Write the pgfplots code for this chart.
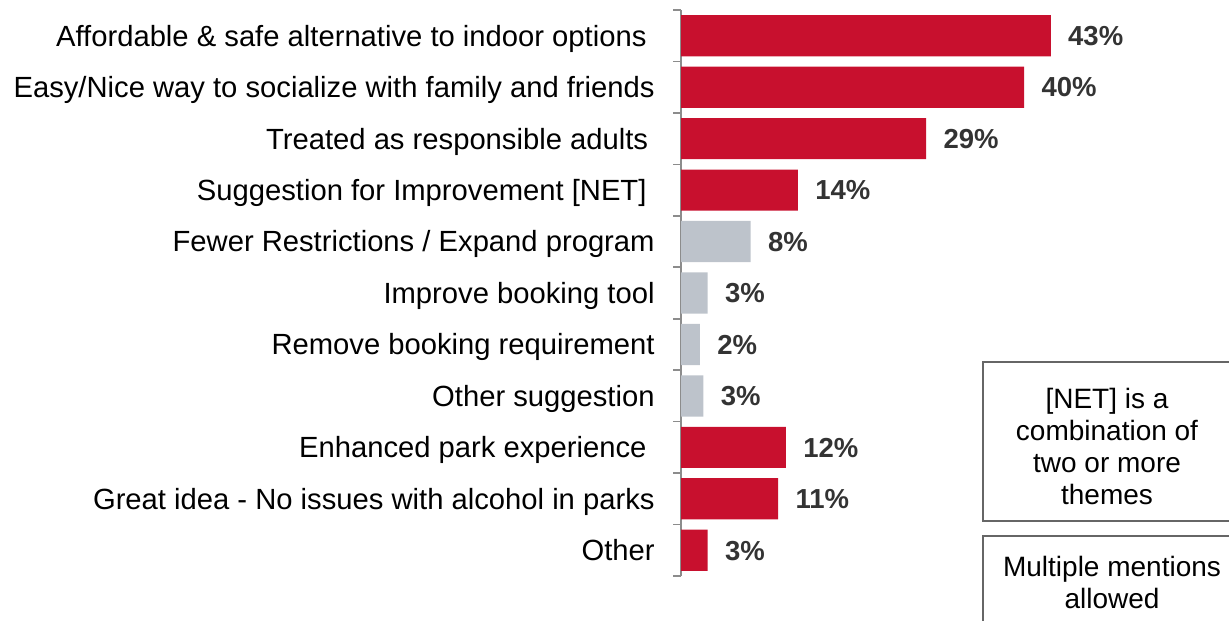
\documentclass[border=0pt]{standalone}
\usepackage{fontspec}
\setmainfont{Liberation Sans}
\usepackage{pgfplots}
\pgfplotsset{compat=1.18}
\definecolor{barred}{HTML}{C8102E}
\definecolor{bargray}{HTML}{BDC3CB}
\definecolor{axgray}{HTML}{8C8C8C}
\definecolor{lblgray}{HTML}{333333}
\begin{document}
\begin{tikzpicture}[x=0.5pt,y=-0.5pt]
\useasboundingbox (0,0) rectangle (1229,620);
\begin{axis}[
  at={(340.5pt,-5pt)}, anchor=north west,
  scale only axis, width=215pt, height=283pt,
  xbar, clip=false,
  xmin=0, xmax=50, ymin=-0.5, ymax=10.5, y dir=reverse,
  hide x axis, axis y line*=left,
  y axis line style={axgray, line width=0.8pt},
  ytick={0,...,10},
  yticklabels={
    Affordable \& safe alternative to indoor options\hphantom{t},
    Easy/Nice way to socialize with family and friends,
    Treated as responsible adults\hphantom{i},
    Suggestion for Improvement [NET]\hphantom{t},
    Fewer Restrictions / Expand program,
    Improve booking tool,
    Remove booking requirement,
    Other suggestion,
    Enhanced park experience\hphantom{t},
    Great idea - No issues with alcohol in parks,
    Other},
  major tick length=0pt,
  minor ytick={-0.5,0.5,...,10.5},
  minor tick length=4pt,
  tick align=outside,
  y tick style={axgray, line width=0.8pt},
  yticklabel style={anchor=base east, inner sep=0pt, xshift=-13pt, yshift=-5.2pt,
    font=\fontsize{14.6pt}{16pt}\selectfont, text=black},
  point meta=explicit symbolic,
  nodes near coords={\pgfplotspointmeta\%},
  every node near coord/.append style={anchor=base west, inner sep=0pt, xshift=8.5pt, yshift=-4.9pt,
    font=\bfseries\fontsize{13.75pt}{16pt}\selectfont, text=lblgray},
]
\addplot[fill=barred, draw=none, bar width=0.8, bar shift=0pt] table[x=v, y=c, meta=l] {
c v l
0 43.0 43
1 39.9 40
2 28.5 29
3 13.6 14
8 12.2 12
9 11.3 11
10 3.1 3
};
\addplot[fill=bargray, draw=none, bar width=0.8, bar shift=0pt] table[x=v, y=c, meta=l] {
c v l
4 8.1 8
5 3.1 3
6 2.2 2
7 2.6 3
};
\end{axis}
\draw[draw=black!60, line width=0.6pt] (983,362) rectangle (1240,521);
\draw[draw=black!60, line width=0.6pt] (983,536) rectangle (1240,650);
\node[align=center, inner sep=0pt, font=\fontsize{14pt}{16pt}\selectfont] at (1107,446) {[NET] is a\\combination of\\two or more\\themes};
\node[align=center, inner sep=0pt, font=\fontsize{14pt}{16pt}\selectfont] at (1112,582) {Multiple mentions\\allowed};
\end{tikzpicture}
\end{document}
